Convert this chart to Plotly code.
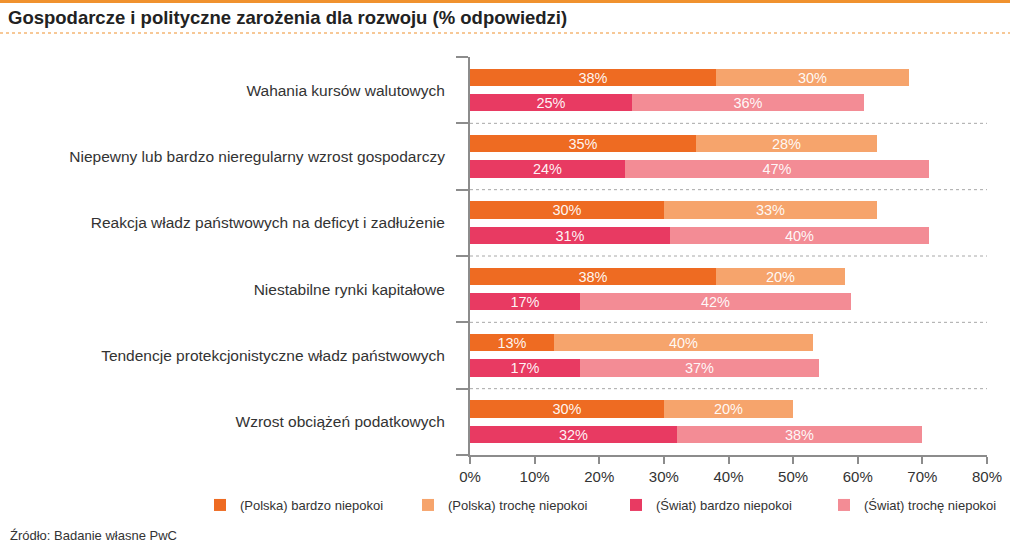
import plotly.graph_objects as go

categories = [
    "Wahania kursów walutowych",
    "Niepewny lub bardzo nieregularny wzrost gospodarczy",
    "Reakcja władz państwowych na deficyt i zadłużenie",
    "Niestabilne rynki kapitałowe",
    "Tendencje protekcjonistyczne władz państwowych",
    "Wzrost obciążeń podatkowych",
]
polska_bardzo = [38, 35, 30, 38, 13, 30]
polska_troche = [30, 28, 33, 20, 40, 20]
swiat_bardzo = [25, 24, 31, 17, 17, 32]
swiat_troche = [36, 47, 40, 42, 37, 38]
series_names = [
    "(Polska) bardzo niepokoi",
    "(Polska) trochę niepokoi",
    "(Świat) bardzo niepokoi",
    "(Świat) trochę niepokoi",
]
x_ticks = [0, 10, 20, 30, 40, 50, 60, 70, 80]
x_tick_labels = [f"{v}%" for v in x_ticks]

title_text = "Gospodarcze i polityczne zarożenia dla rozwoju (% odpowiedzi)"
source_text = "Źródło: Badanie własne PwC"

colors = ["#EE6B22", "#F6A46C", "#E83A62", "#F38C95"]
axis_gray = "#8C8C8C"
text_col = "#333333"
FONT = "Liberation Sans, Arial, Helvetica, sans-serif"

W, H = 1023, 545
L, R, T, B = 470, 36, 57, 90
pw, ph = W - L - R, H - T - B


def pxx(px):
    return (px - L) / pw


def pxy(py):
    return (H - B - py) / ph


n = len(categories)
y_pl = [i + 0.305 for i in range(n)]
y_sw = [i + 0.69 for i in range(n)]
bw = 0.26

fig = go.Figure()
for vals, ys, name, col in [
    (polska_bardzo, y_pl, series_names[0], colors[0]),
    (polska_troche, y_pl, series_names[1], colors[1]),
    (swiat_bardzo, y_sw, series_names[2], colors[2]),
    (swiat_troche, y_sw, series_names[3], colors[3]),
]:
    fig.add_trace(go.Bar(
        x=vals, y=ys, orientation="h", name=name, width=bw,
        marker=dict(color=col, line=dict(width=0)),
        text=[str(v) for v in vals], texttemplate="%{text}%", textposition="inside",
        insidetextanchor="middle", textangle=0, constraintext="none",
        textfont=dict(color="rgba(255,255,255,0.95)", size=14.5, family=FONT),
        hoverinfo="skip",
    ))

shapes = []
for b in range(1, n):
    shapes.append(dict(type="line", xref="x domain", yref="y", x0=0, x1=1, y0=b, y1=b,
                       line=dict(color="#A8A8A8", width=1, dash="dot")))
# top orange rule and dotted separator under title
shapes.append(dict(type="line", xref="paper", yref="paper", x0=pxx(0), x1=pxx(1010),
                   y0=pxy(1.5), y1=pxy(1.5), line=dict(color="#F0922E", width=3)))
shapes.append(dict(type="line", xref="paper", yref="paper", x0=pxx(0), x1=pxx(1010),
                   y0=pxy(33), y1=pxy(33), line=dict(color="#F0922E", width=1.2, dash="dot")))

fig.update_layout(
    width=W, height=H,
    margin=dict(l=L, r=R, t=T, b=B, autoexpand=False),
    paper_bgcolor="white", plot_bgcolor="white",
    barmode="stack", bargap=0,
    uniformtext=dict(mode="show", minsize=14),
    font=dict(family=FONT, color=text_col),
    showlegend=True,
    legend=dict(orientation="h", x=pxx(200), y=pxy(505), xanchor="left", yanchor="middle",
                font=dict(size=13, color=text_col, family=FONT),
                traceorder="normal", entrywidth=163, entrywidthmode="pixels",
                bgcolor="rgba(0,0,0,0)"),
    title=dict(text="<b>" + title_text + "</b>", xref="container", yref="container",
               x=8 / W, y=1 - 18 / H, xanchor="left", yanchor="middle",
               font=dict(size=18.5, color="#222222", family=FONT)),
    shapes=shapes,
    annotations=[dict(text=source_text, xref="paper", yref="paper",
                      x=pxx(8), y=pxy(535), xanchor="left", yanchor="middle",
                      showarrow=False, font=dict(size=13, color=text_col, family=FONT))],
    xaxis=dict(range=[0, 80], tickmode="array", tickvals=x_ticks, ticktext=x_tick_labels,
               ticks="outside", ticklen=7, tickwidth=2, tickcolor=axis_gray, showline=True,
               linecolor=axis_gray, linewidth=2, showgrid=False, zeroline=False,
               tickfont=dict(size=15, color=text_col, family=FONT), fixedrange=True),
    yaxis=dict(range=[n, 0], tickmode="array", tickvals=[i + 0.5 for i in range(n)],
               ticktext=categories, ticks="", ticklabelstandoff=20,
               showline=True, linecolor=axis_gray, linewidth=2, showgrid=False,
               zeroline=False, tickfont=dict(size=15.5, color=text_col, family=FONT),
               minor=dict(tickmode="linear", tick0=0, dtick=1, ticks="outside",
                          ticklen=12, tickwidth=2, tickcolor=axis_gray, showgrid=False),
               fixedrange=True),
)

fig.write_html(
    "out.html",
    config={"displayModeBar": False},
    post_script="document.body.style.margin='0';document.body.style.overflow='hidden';",
)
